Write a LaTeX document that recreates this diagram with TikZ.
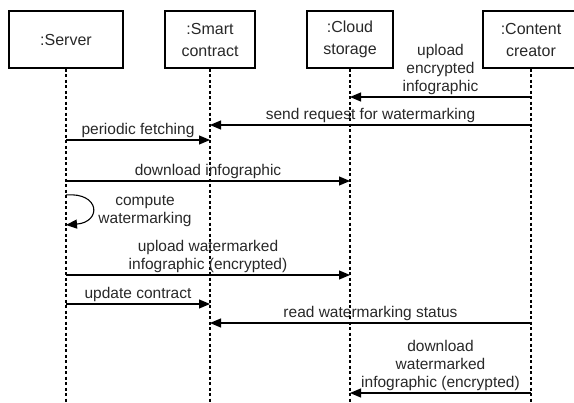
\documentclass[tikz,border=0pt]{standalone}
\usepackage{fontspec}
\setmainfont{Liberation Sans}
\usepackage{tikz}
\usetikzlibrary{arrows.meta,positioning,calc}
\definecolor{inkgray}{RGB}{40,40,40}

\begin{document}
\begin{tikzpicture}[x=1pt,y=-1pt,>={Triangle[length=11pt,width=9pt]},
  lifebox/.style={draw, line width=1.2pt, minimum height=57pt, align=center, text=inkgray,
    font=\fontsize{16}{22}\selectfont},
  lifeline/.style={dashed, dash pattern=on 3pt off 2.5pt, line width=1.1pt},
  msg/.style={->, line width=1.1pt},
  lbl/.style={align=center, text=inkgray, inner sep=1.5pt, font=\fontsize{15.5}{18}\selectfont}]
  \useasboundingbox (0,0) rectangle (574,403);

  % participants
  \node[lifebox, minimum width=114pt] (srv) at (66,39.5) {:Server};
  \node[lifebox, minimum width=90pt] (sc) at (210,39.5) {:Smart\\contract};
  \node[lifebox, minimum width=86pt] (cs) at (350,39.5) {:Cloud\\storage};
  \node[lifebox, minimum width=96pt] (cc) at (531,39.5) {:Content\\creator};

  % lifelines
  \foreach \p in {srv,sc,cs,cc}
    \draw[lifeline] (\p.south) -- (\p.south |- 0,403);

  % messages
  \draw[msg] (cc.south |- 0,97) -- node[lbl, above] (m1) {upload\\encrypted\\infographic} (cs.south |- 0,97);
  \draw[msg] (cc.south |- 0,125) -- node[lbl, above] (m2) {send request for watermarking} (sc.south |- 0,125);
  \draw[msg] (srv.south |- 0,140) -- node[lbl, above] (m3) {periodic fetching} (sc.south |- 0,140);
  \draw[msg] (srv.south |- 0,181) -- node[lbl, above] (m4) {download infographic} (cs.south |- 0,181);
  \coordinate (loopa) at (66,195);
  \coordinate (loopb) at (66,225);
  \draw[msg] (loopa) .. controls (100,192) and (102,222) .. (loopb);
  \node[lbl] (m5) at (145,211) {compute\\watermarking};
  \draw[msg] (srv.south |- 0,275) -- node[lbl, above] (m6) {upload watermarked\\infographic (encrypted)} (cs.south |- 0,275);
  \draw[msg] (srv.south |- 0,304) -- node[lbl, above] (m7) {update contract} (sc.south |- 0,304);
  \draw[msg] (cc.south |- 0,323) -- node[lbl, above] (m8) {read watermarking status} (sc.south |- 0,323);
  \draw[msg] (cc.south |- 0,393) -- node[lbl, above] (m9) {download\\watermarked\\infographic (encrypted)} (cs.south |- 0,393);
\end{tikzpicture}
\end{document}
